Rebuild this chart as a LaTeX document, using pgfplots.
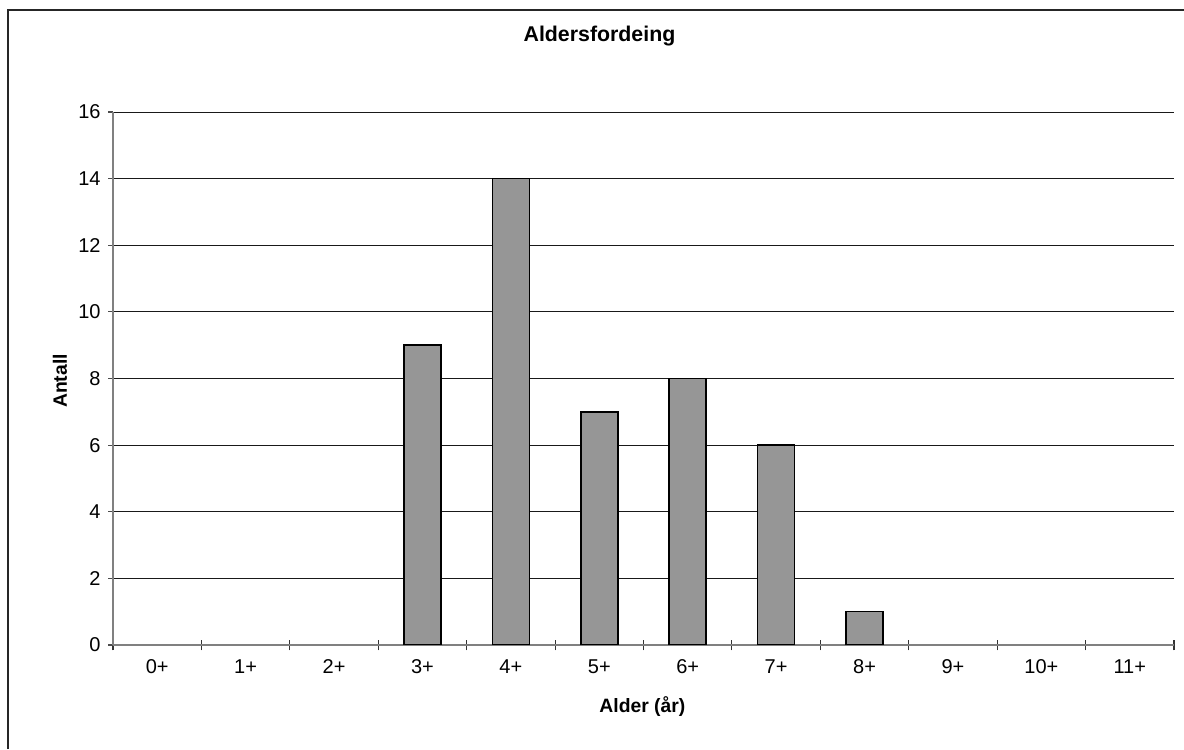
\documentclass[border=0pt]{standalone}
\usepackage{pgfplots}
\pgfplotsset{compat=1.18}
\usepackage{fontspec}
\setmainfont{Liberation Sans}
\definecolor{barfill}{RGB}{150,150,150}
\definecolor{axisgray}{RGB}{128,128,128}
\begin{document}
\begin{tikzpicture}
\path[use as bounding box] (0,0) rectangle (888pt,561.75pt);
\draw[line width=1.3pt, black!85] (6pt,0) -- (6pt,554.25pt) -- (888pt,554.25pt);
\begin{axis}[
  at={(84.75pt,78pt)}, anchor=south west,
  scale only axis,
  width=795.75pt, height=399.75pt,
  xmin=-0.5, xmax=11.5, ymin=0, ymax=16,
  ytick={0,2,...,16},
  xtick={0,...,11},
  xticklabels={0+,1+,2+,3+,4+,5+,6+,7+,8+,9+,10+,11+},
  minor xtick={-0.5,0.5,...,11.5},
  axis x line*=bottom, axis y line*=left,
  axis line style={axisgray, line width=1.3pt, -},
  ymajorgrids,
  major grid style={black!90, line width=0.7pt},
  major x tick style={draw=none},
  major tick length=3.75pt,
  minor tick length=8pt,
  y tick style={black!70, line width=0.8pt},
  minor x tick style={black!80, line width=0.8pt},
  xtick align=center,
  ytick align=outside,
  ticklabel style={font=\fontsize{15}{18}\selectfont},
  /pgf/number format/assume math mode=true,
  xticklabel style={yshift=-5.5pt},
  yticklabel style={xshift=-2pt},
  title={\textbf{Aldersfordeing}},
  title style={at={(axis description cs:0.4585,1.1276)}, anchor=center, font=\fontsize{16}{19}\selectfont},
  xlabel={\textbf{Alder (år)}},
  xlabel style={at={(axis description cs:0.499,-0.1163)}, anchor=center, font=\fontsize{14.5}{17}\selectfont},
  ylabel={\textbf{Antall}},
  ylabel style={at={(axis description cs:-0.050,0.4953)}, anchor=center, rotate=0, font=\fontsize{14.5}{17}\selectfont},
]
\addplot[ybar, bar width=27.75pt, fill=barfill, draw=black, line width=1.2pt]
  coordinates {(3,9) (4,14) (5,7) (6,8) (7,6) (8,1)};
\end{axis}
\end{tikzpicture}
\end{document}
